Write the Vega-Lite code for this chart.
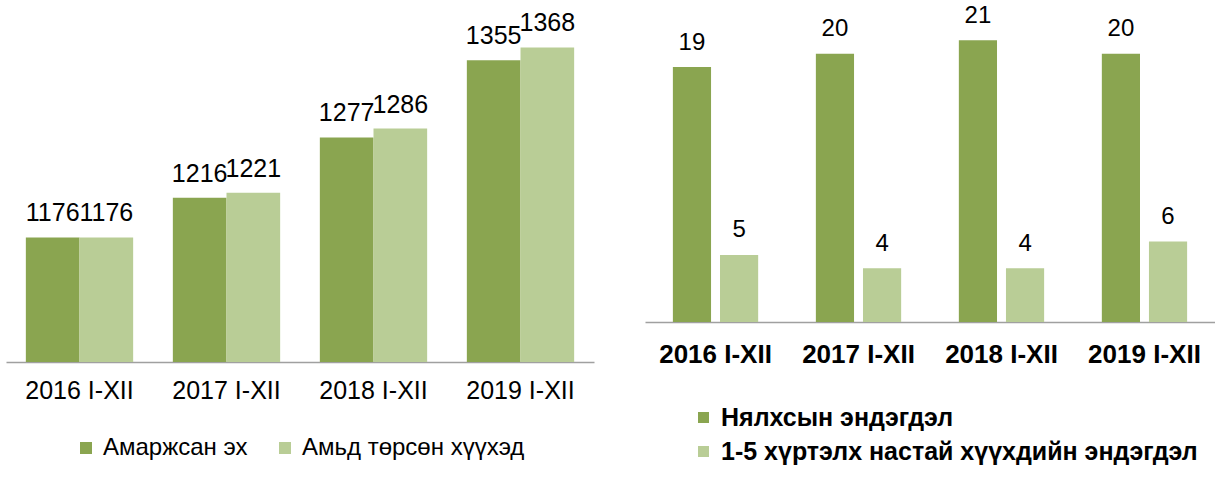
{
  "$schema": "https://vega.github.io/schema/vega-lite/v6.json",
  "padding": {"left": 6, "top": 0, "right": 0, "bottom": 0},
  "spacing": 51,
  "background": "white",
  "config": {
    "view": {"stroke": null},
    "font": "Liberation Sans",
    "axis": {"grid": false, "ticks": false, "domainColor": "#a0a0a0", "domainWidth": 1.5, "labelColor": "#000000", "labelAngle": 0, "title": null},
    "legend": {"padding": 0, "symbolType": "square", "symbolStrokeWidth": 0, "symbolOpacity": 1, "labelColor": "#000000", "title": null, "labelLimit": 700}
  },
  "datasets": {
    "births": [
      {"year": "2016 I-XII", "series": "Амаржсан эх", "value": 1176},
      {"year": "2016 I-XII", "series": "Амьд төрсөн хүүхэд", "value": 1176},
      {"year": "2017 I-XII", "series": "Амаржсан эх", "value": 1216},
      {"year": "2017 I-XII", "series": "Амьд төрсөн хүүхэд", "value": 1221},
      {"year": "2018 I-XII", "series": "Амаржсан эх", "value": 1277},
      {"year": "2018 I-XII", "series": "Амьд төрсөн хүүхэд", "value": 1286},
      {"year": "2019 I-XII", "series": "Амаржсан эх", "value": 1355},
      {"year": "2019 I-XII", "series": "Амьд төрсөн хүүхэд", "value": 1368}
    ],
    "deaths": [
      {"year": "2016 I-XII", "series": "Нялхсын  эндэгдэл", "value": 19},
      {"year": "2016 I-XII", "series": "1-5 хүртэлх  настай хүүхдийн  эндэгдэл", "value": 5},
      {"year": "2017 I-XII", "series": "Нялхсын  эндэгдэл", "value": 20},
      {"year": "2017 I-XII", "series": "1-5 хүртэлх  настай хүүхдийн  эндэгдэл", "value": 4},
      {"year": "2018 I-XII", "series": "Нялхсын  эндэгдэл", "value": 21},
      {"year": "2018 I-XII", "series": "1-5 хүртэлх  настай хүүхдийн  эндэгдэл", "value": 4},
      {"year": "2019 I-XII", "series": "Нялхсын  эндэгдэл", "value": 20},
      {"year": "2019 I-XII", "series": "1-5 хүртэлх  настай хүүхдийн  эндэгдэл", "value": 6}
    ]
  },
  "resolve": {"scale": {"color": "independent", "x": "independent", "y": "independent", "xOffset": "independent"}, "legend": {"color": "independent"}},
  "hconcat": [
    {
      "width": 588,
      "height": 362,
      "data": {"name": "births"},
      "encoding": {
        "x": {"field": "year", "type": "nominal", "scale": {"paddingInner": 0.27, "paddingOuter": 0.135},
              "axis": {"labelFontSize": 25, "labelPadding": 16}},
        "xOffset": {"field": "series", "type": "nominal", "scale": {"domain": ["Амаржсан эх", "Амьд төрсөн хүүхэд"], "paddingInner": 0, "paddingOuter": 0}},
        "y": {"field": "value", "type": "quantitative", "scale": {"domain": [1050, 1416], "zero": false, "nice": false}, "axis": null}
      },
      "layer": [
        {
          "mark": {"type": "bar", "clip": true},
          "encoding": {
            "y2": {"datum": 1050},
            "color": {"field": "series", "type": "nominal",
              "scale": {"domain": ["Амаржсан эх", "Амьд төрсөн хүүхэд"], "range": ["#8aa550", "#b9cd96"]},
              "legend": {"orient": "none", "legendX": 68, "legendY": 436, "direction": "horizontal", "symbolSize": 144, "labelFontSize": 24, "labelOffset": 5, "columnPadding": 25}}
          }
        },
        {
          "mark": {"type": "text", "baseline": "alphabetic", "dy": -16, "fontSize": 25, "color": "#000000"},
          "encoding": {"text": {"field": "value", "type": "quantitative"}}
        }
      ]
    },
    {
      "width": 570,
      "height": 322,
      "data": {"name": "deaths"},
      "encoding": {
        "x": {"field": "year", "type": "nominal", "scale": {"paddingInner": 0.4035, "paddingOuter": 0.195},
              "axis": {"labelFontSize": 26, "labelFontWeight": "bold", "labelPadding": 19}},
        "xOffset": {"field": "series", "type": "nominal", "scale": {"domain": ["Нялхсын  эндэгдэл", "1-5 хүртэлх  настай хүүхдийн  эндэгдэл"], "paddingInner": 0.19, "paddingOuter": 0}},
        "y": {"field": "value", "type": "quantitative", "scale": {"domain": [0, 24], "nice": false}, "axis": null}
      },
      "layer": [
        {
          "mark": {"type": "bar"},
          "encoding": {
            "color": {"field": "series", "type": "nominal",
              "scale": {"domain": ["Нялхсын  эндэгдэл", "1-5 хүртэлх  настай хүүхдийн  эндэгдэл"], "range": ["#8aa550", "#b9cd96"]},
              "legend": {"orient": "none", "legendX": 46, "legendY": 405, "direction": "vertical", "symbolSize": 121, "labelFontSize": 25, "labelFontWeight": "bold", "labelOffset": 5, "rowPadding": 8}}
          }
        },
        {
          "mark": {"type": "text", "baseline": "alphabetic", "dy": -17.5, "fontSize": 24, "color": "#000000"},
          "encoding": {"text": {"field": "value", "type": "quantitative"}}
        }
      ]
    }
  ]
}
